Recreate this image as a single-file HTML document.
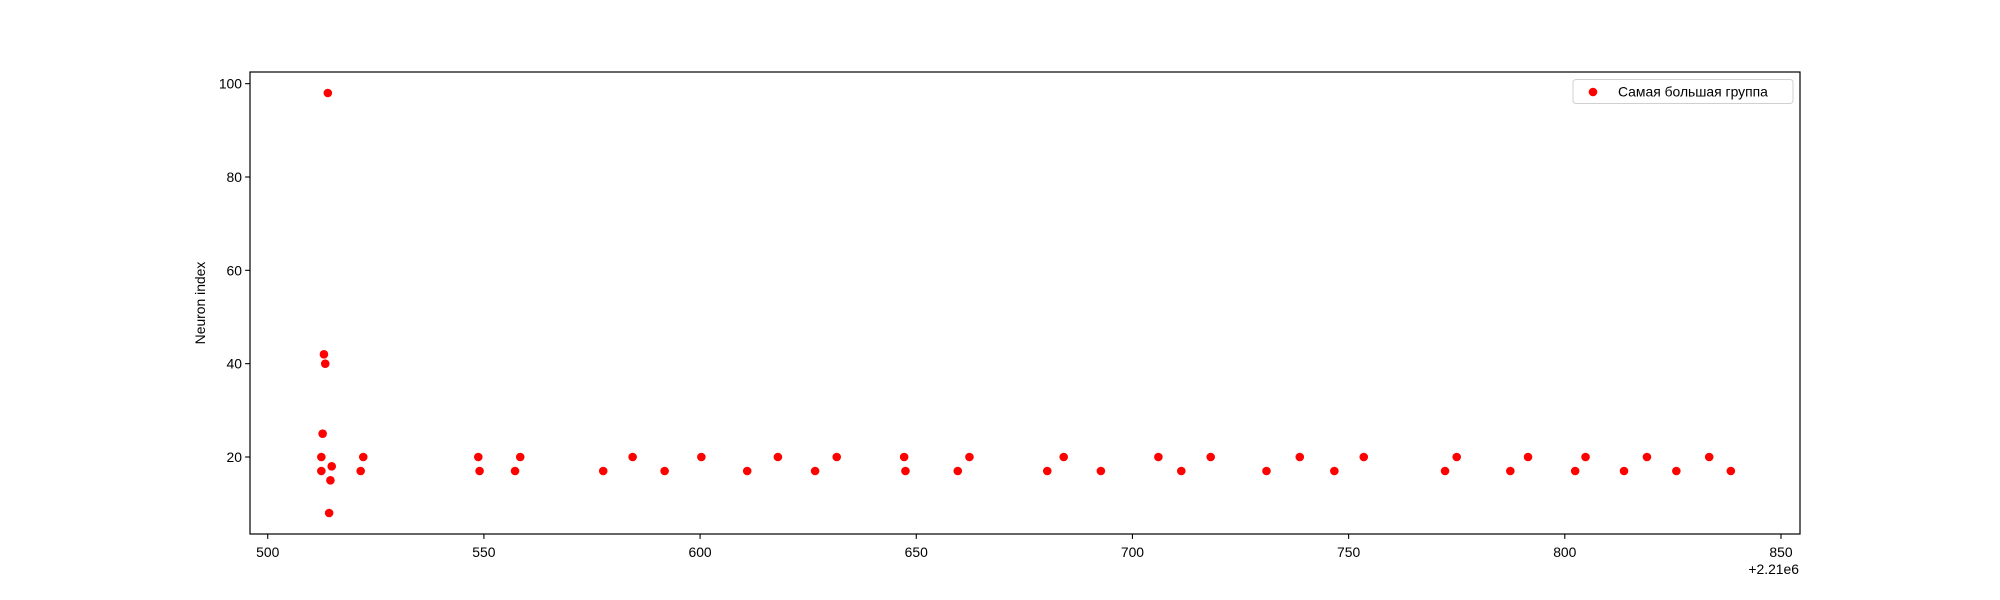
<!DOCTYPE html>
<html><head><meta charset="utf-8"><style>
html,body{margin:0;padding:0;background:#fff;}
svg{display:block;font-family:"Liberation Sans","DejaVu Sans",sans-serif;}
</style></head><body>
<svg id="chart" width="2000" height="600"></svg>
<script>
const xValues = [512.4,512.4,512.7,513.0,513.3,513.9,514.2,514.5,514.8,521.5,522.1,548.7,549.0,557.2,558.4,577.6,584.4,591.8,600.3,610.9,618.0,626.6,631.6,647.2,647.5,659.6,662.3,680.3,684.1,692.7,706.0,711.3,718.1,731.0,738.7,746.7,753.5,772.3,775.0,787.4,791.5,802.4,804.8,813.7,819.0,825.8,833.4,838.4];
const yValues = [20,17,25,42,40,98,8,15,18,17,20,20,17,17,20,17,20,17,20,17,20,17,20,20,17,17,20,17,20,17,20,17,20,17,20,17,20,17,20,17,20,17,20,17,20,17,20,17];
const xTicks = [500,550,600,650,700,750,800,850];
const yTicks = [20,40,60,80,100];
const xLim = [495.9, 854.4];
const yLim = [3.5, 102.5];

const NS="http://www.w3.org/2000/svg";
const svg=document.getElementById('chart');
const L=250,R=1800,T=72,B=534;
const sx=v=>L+(v-xLim[0])/(xLim[1]-xLim[0])*(R-L);
const sy=v=>B-(v-yLim[0])/(yLim[1]-yLim[0])*(B-T);
function mk(tag,attrs,parent){const e=document.createElementNS(NS,tag);for(const k in attrs)e.setAttribute(k,attrs[k]);(parent||svg).appendChild(e);return e;}

const pts=mk('g',{});


xValues.forEach((x,i)=>{
  const c=mk('circle',{cx:sx(x),cy:sy(yValues[i]),r:4.3,fill:'#ff0000'},pts);
  
  
});

const frame=mk('rect',{x:L,y:T,width:R-L,height:B-T,fill:'none',stroke:'#000','stroke-width':1.2});



xTicks.forEach(t=>{
  const x=sx(t);
  const ln=mk('line',{x1:x,x2:x,y1:B,y2:B+4.9,stroke:'#000','stroke-width':1.1});
  
  
  const tx=mk('text',{x:x,y:B+23,'font-size':'13.9','text-anchor':'middle',fill:'#000'});
  tx.textContent=t;
  
  
});
yTicks.forEach(t=>{
  const y=sy(t);
  const ln=mk('line',{x1:L-4.9,x2:L,y1:y,y2:y,stroke:'#000','stroke-width':1.1});
  
  
  const tx=mk('text',{x:L-8,y:y+5,'font-size':'13.9','text-anchor':'end',fill:'#000'});
  tx.textContent=t;
  
  
});
</script>
<svg style="position:absolute;left:0;top:0" width="2000" height="600">
<text x="1799" y="574" font-size="13.9" text-anchor="end" fill="#000" font-family="Liberation Sans, sans-serif">+2.21e6</text>
<text transform="translate(205,303) rotate(-90)" font-size="13.9" text-anchor="middle" fill="#000" font-family="Liberation Sans, sans-serif">Neuron index</text>
<g>
<rect x="1573" y="79.5" width="220" height="24" rx="3" fill="#fff" stroke="#d0d0d0"/>
<circle cx="1593" cy="92" r="4.3" fill="#ff0000"/>
<text x="1618" y="96.5" font-size="13.9" fill="#000" font-family="Liberation Sans, DejaVu Sans, sans-serif">Самая большая группа</text>
</g>
</svg>
</body></html>
